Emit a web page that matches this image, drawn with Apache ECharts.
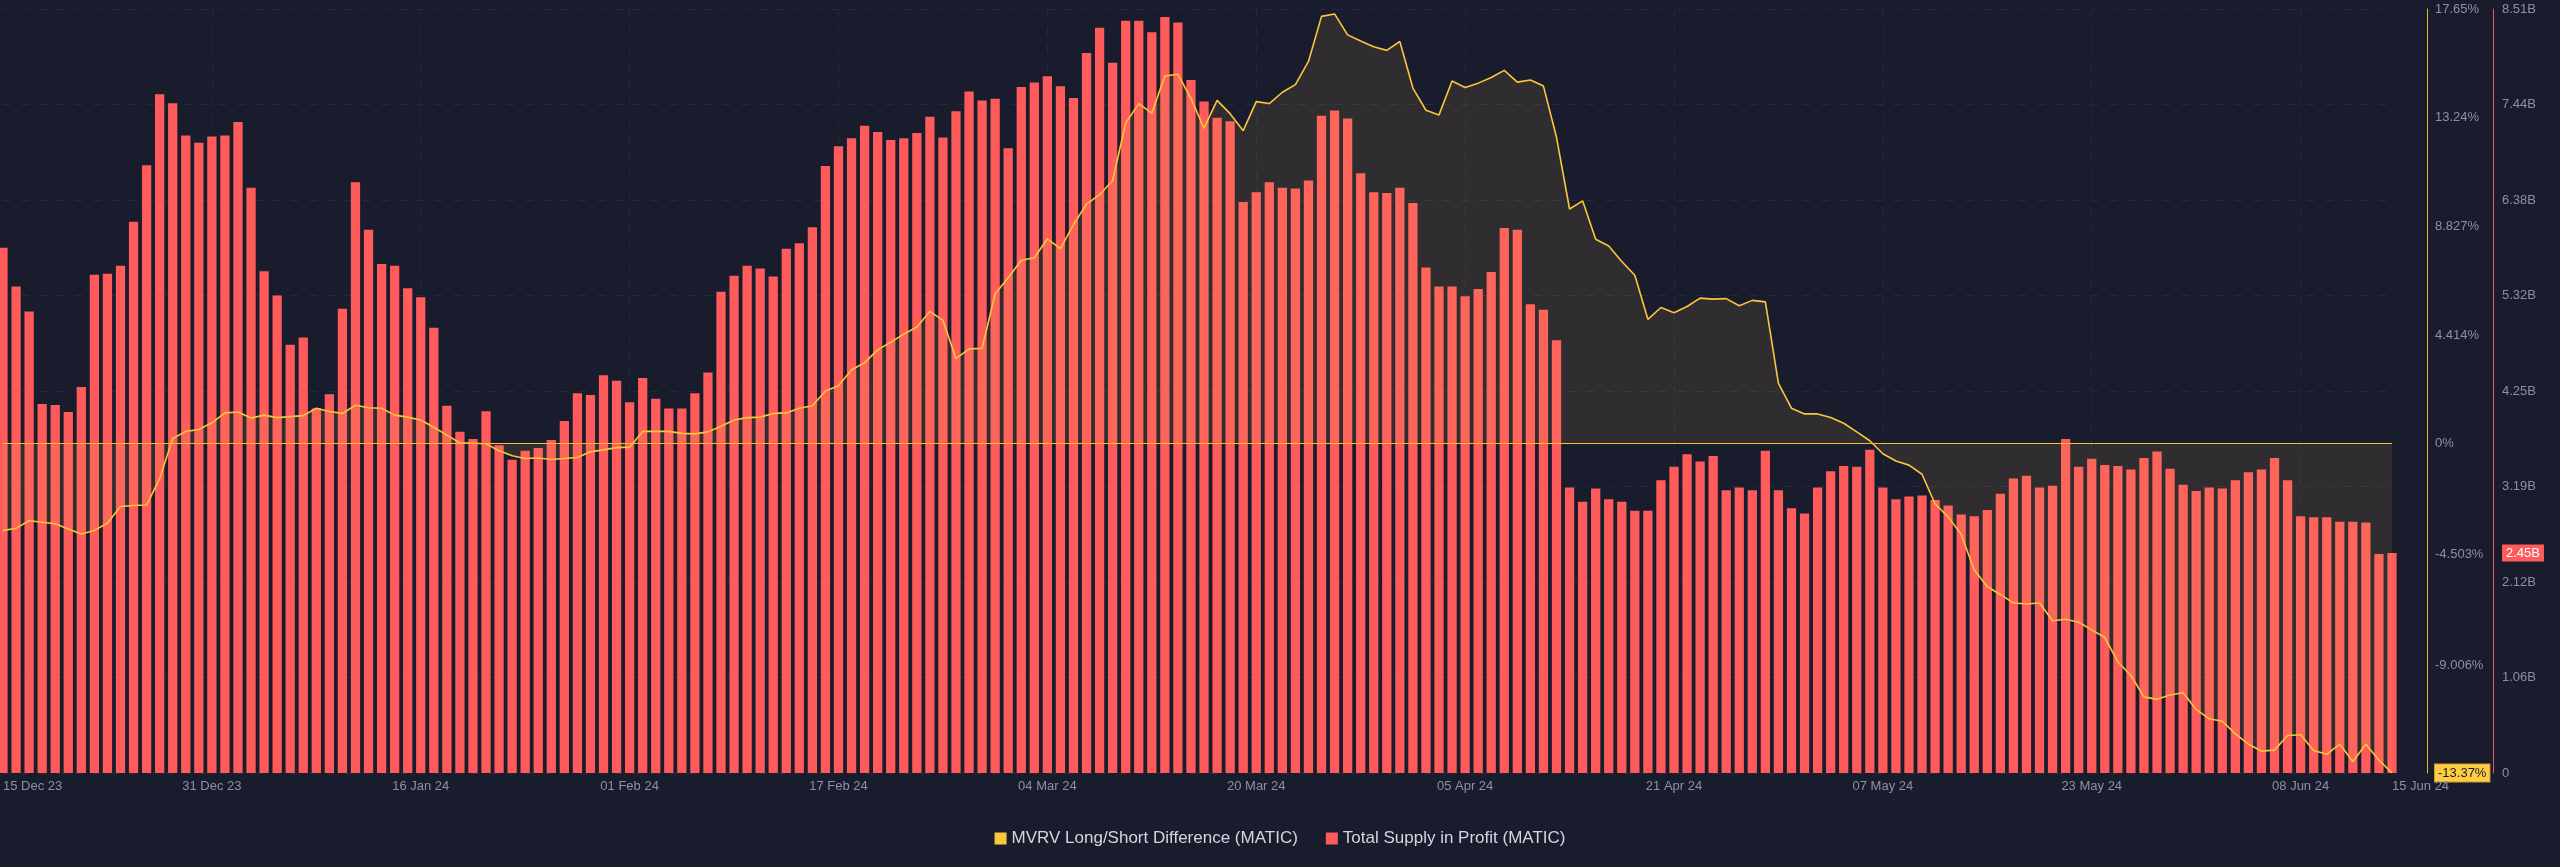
<!DOCTYPE html>
<html>
<head>
<meta charset="utf-8">
<script src="https://cdn.jsdelivr.net/npm/echarts@6/dist/echarts.min.js"></script>
<style>
html,body{margin:0;padding:0;background:#191c2d;}
#chart{width:2560px;height:867px;}
</style>
</head>
<body>
<div id="chart"></div>
<script>
// ---- data ----
const startDate = [2023, 11, 15];
const dayCount = 184;
const monthNames = ['Jan','Feb','Mar','Apr','May','Jun','Jul','Aug','Sep','Oct','Nov','Dec'];
const categories = [];
for (let i = 0; i < dayCount; i++) {
  const d = new Date(startDate[0], startDate[1], startDate[2] + i);
  categories.push(String(d.getDate()).padStart(2, '0') + ' ' + monthNames[d.getMonth()] + ' ' + String(d.getFullYear()).slice(2));
}

// Total Supply in Profit (billions)
const supplyInProfit = [
  5.85,5.42,5.14,4.11,4.10,4.02,4.30,5.55,5.56,5.65,6.14,6.77,7.56,7.46,7.10,7.02,7.09,7.10,7.25,6.52,
  5.59,5.32,4.77,4.85,4.06,4.22,5.17,6.58,6.05,5.67,5.65,5.40,5.30,4.96,4.09,3.80,3.72,4.03,3.65,3.49,
  3.59,3.62,3.71,3.92,4.23,4.21,4.43,4.37,4.13,4.40,4.17,4.06,4.06,4.23,4.46,5.36,5.54,5.65,5.62,5.53,
  5.84,5.90,6.08,6.76,6.98,7.07,7.21,7.14,7.05,7.07,7.13,7.31,7.08,7.37,7.59,7.49,7.51,6.96,7.64,
  7.69,7.76,7.65,7.52,8.02,8.30,7.91,8.38,8.38,8.25,8.42,8.36,7.72,7.48,7.30,7.26,6.36,6.47,6.58,6.52,
  6.51,6.60,7.32,7.38,7.29,6.68,6.47,6.46,6.52,6.35,5.63,5.42,5.42,5.31,5.39,5.58,6.07,6.05,5.22,
  5.16,4.82,3.18,3.02,3.17,3.05,3.02,2.92,2.92,3.26,3.41,3.55,3.47,3.53,3.15,3.18,3.15,3.59,3.15,2.95,
  2.89,3.18,3.36,3.42,3.41,3.60,3.18,3.05,3.08,3.09,3.04,2.98,2.88,2.86,2.93,3.11,3.28,3.31,3.18,
  3.20,3.72,3.41,3.50,3.43,3.42,3.38,3.51,3.58,3.39,3.21,3.14,3.18,3.17,3.26,3.35,3.38,3.51,3.26,2.86,
  2.85,2.85,2.80,2.80,2.79,2.44,2.45
];

// MVRV Long/Short Difference (%)
const mvrvDiff = [
  -3.52,-3.44,-3.13,-3.19,-3.25,-3.46,-3.67,-3.52,-3.23,-2.55,-2.51,-2.49,-1.42,0.21,0.50,0.58,0.85,1.25,1.29,1.04,
  1.16,1.06,1.10,1.14,1.44,1.31,1.23,1.56,1.46,1.44,1.16,1.08,0.96,0.67,0.35,0.04,0.02,0,-0.29,-0.49,
  -0.60,-0.58,-0.64,-0.60,-0.56,-0.33,-0.25,-0.16,-0.14,0.50,0.50,0.50,0.42,0.40,0.48,0.71,0.96,1.06,1.08,1.23,
  1.25,1.44,1.54,2.14,2.35,3.00,3.29,3.81,4.12,4.45,4.74,5.37,5.01,3.45,3.85,3.87,6.09,6.74,7.45,
  7.55,8.32,7.92,8.90,9.73,10.11,10.69,13.02,13.81,13.42,14.93,15.00,14.02,12.81,13.94,13.40,12.71,13.89,13.81,14.27,
  14.58,15.52,17.35,17.45,16.60,16.35,16.12,15.97,16.33,14.44,13.54,13.35,14.73,14.46,14.64,14.87,15.16,14.68,14.77,
  14.52,12.44,9.53,9.86,8.30,8.03,7.40,6.84,5.05,5.53,5.32,5.57,5.91,5.87,5.89,5.60,5.82,5.76,2.45,1.44,
  1.21,1.21,1.06,0.83,0.48,0.12,-0.41,-0.70,-0.87,-1.24,-2.45,-2.97,-3.69,-5.13,-5.81,-6.12,-6.47,-6.51,-6.47,
  -7.19,-7.13,-7.25,-7.56,-7.87,-8.86,-9.41,-10.28,-10.38,-10.20,-10.11,-10.79,-11.17,-11.27,-11.78,-12.20,-12.48,-12.44,-11.85,-11.82,
  -12.46,-12.61,-12.20,-12.90,-12.20,-12.85,-13.37
];

// tick labels
const mvrvTicks = [-13.37, -9.006, -4.503, 0, 4.414, 8.827, 13.24, 17.65];
const mvrvTickLabels = ['-13.37%', '-9.006%', '-4.503%', '0%', '4.414%', '8.827%', '13.24%', '17.65%'];
const supplyMax = 8.51;
const supplyTickLabels = ['0', '1.06B', '2.12B', '3.19B', '4.25B', '5.32B', '6.38B', '7.44B', '8.51B'];
const seriesNames = ['MVRV Long/Short Difference (MATIC)', 'Total Supply in Profit (MATIC)'];

const lastSupply = supplyInProfit[supplyInProfit.length - 1];
const lastMvrv = mvrvDiff[mvrvDiff.length - 1];
const supplyStep = supplyMax / 8;
const supplyTickValues = supplyTickLabels.map((_, i) => i * supplyStep);

const YELLOW = '#fbc63b';
const RED = '#ff5b5b';
const LABEL = '#8a91a7';
const GRIDC = '#252a3b';
const FONT = '"Liberation Sans", Arial, Helvetica, sans-serif';

const chart = echarts.init(document.getElementById('chart'));
chart.setOption({
  backgroundColor: '#191c2d',
  animation: false,
  textStyle: { fontFamily: FONT },
  grid: { left: 0, right: 168, top: 9, bottom: 94, containLabel: false },
  legend: {
    top: 825,
    left: 'center',
    icon: 'rect',
    itemWidth: 12,
    itemHeight: 12,
    itemGap: 28,
    data: seriesNames,
    textStyle: { color: '#d3d6df', fontSize: 17, fontFamily: FONT }
  },
  xAxis: {
    type: 'category',
    data: categories,
    boundaryGap: false,
    axisLine: { show: true, lineStyle: { color: '#272b3d' } },
    axisTick: { show: false },
    axisLabel: {
      color: LABEL,
      fontSize: 13,
      margin: 7,
      alignMinLabel: 'left',
      alignMaxLabel: 'left',
      interval: function (idx) { return idx % 16 === 0 || idx === dayCount - 1; }
    },
    splitLine: {
      show: true,
      interval: function (idx) { return idx % 16 === 0 && idx !== 0; },
      lineStyle: { color: GRIDC, type: [8, 10], width: 1 }
    }
  },
  yAxis: [
    {
      type: 'value',
      position: 'right',
      offset: 35,
      min: mvrvTicks[0],
      max: mvrvTicks[mvrvTicks.length - 1],
      axisLine: { show: true, lineStyle: { color: '#e5b52c', width: 1 } },
      axisTick: { show: false },
      splitLine: { show: false },
      axisLabel: {
        color: LABEL,
        fontSize: 13,
        margin: 8,
        customValues: mvrvTicks,
        formatter: function (v) {
          let idx = -1;
          for (let i = 0; i < mvrvTicks.length; i++) if (Math.abs(mvrvTicks[i] - v) < 1e-6) idx = i;
          if (Math.abs(v - lastMvrv) < 1e-6) return '{hl|' + lastMvrv.toFixed(2) + '%}';
          return idx >= 0 ? mvrvTickLabels[idx] : '';
        },
        rich: {
          hl: {
            backgroundColor: '#ffcd45',
            borderColor: '#caa02a',
            borderWidth: 1,
            color: '#1b1b1b',
            fontSize: 13,
            padding: [2, 3, 2, 3],
            fontFamily: FONT
          }
        }
      }
    },
    {
      type: 'value',
      position: 'right',
      offset: 101,
      min: 0,
      max: supplyMax,
      interval: supplyStep,
      axisLine: { show: true, lineStyle: { color: '#e85757', width: 1 } },
      axisTick: { show: false },
      splitLine: { show: true, lineStyle: { color: GRIDC, type: [8, 10], width: 1 } },
      axisLabel: {
        color: LABEL,
        fontSize: 13,
        margin: 9,
        customValues: supplyTickValues.concat([lastSupply]),
        formatter: function (v) {
          if (Math.abs(v - lastSupply) < 1e-9) return '{hl|' + lastSupply.toFixed(2) + 'B}';
          const idx = Math.round(v / supplyStep);
          return supplyTickLabels[idx] !== undefined ? supplyTickLabels[idx] : '';
        },
        rich: {
          hl: {
            backgroundColor: RED,
            color: '#ffffff',
            fontSize: 13,
            padding: [2, 4, 2, 4],
            fontFamily: FONT
          }
        }
      }
    }
  ],
  series: [
    {
      name: seriesNames[1],
      type: 'bar',
      yAxisIndex: 1,
      data: supplyInProfit,
      barWidth: '71%',
      clip: true,
      itemStyle: { color: RED },
      emphasis: { disabled: true }
    },
    {
      name: seriesNames[0],
      type: 'line',
      yAxisIndex: 0,
      data: mvrvDiff,
      showSymbol: false,
      symbol: 'none',
      lineStyle: { color: YELLOW, width: 1.6 },
      itemStyle: { color: YELLOW },
      areaStyle: { color: 'rgba(245,188,85,0.15)', origin: 'auto' },
      markLine: {
        silent: true,
        symbol: 'none',
        label: { show: false },
        lineStyle: { color: '#f4bf34', width: 1, type: 'solid' },
        data: [{ yAxis: 0 }]
      },
      emphasis: { disabled: true }
    }
  ]
});
</script>
</body>
</html>
